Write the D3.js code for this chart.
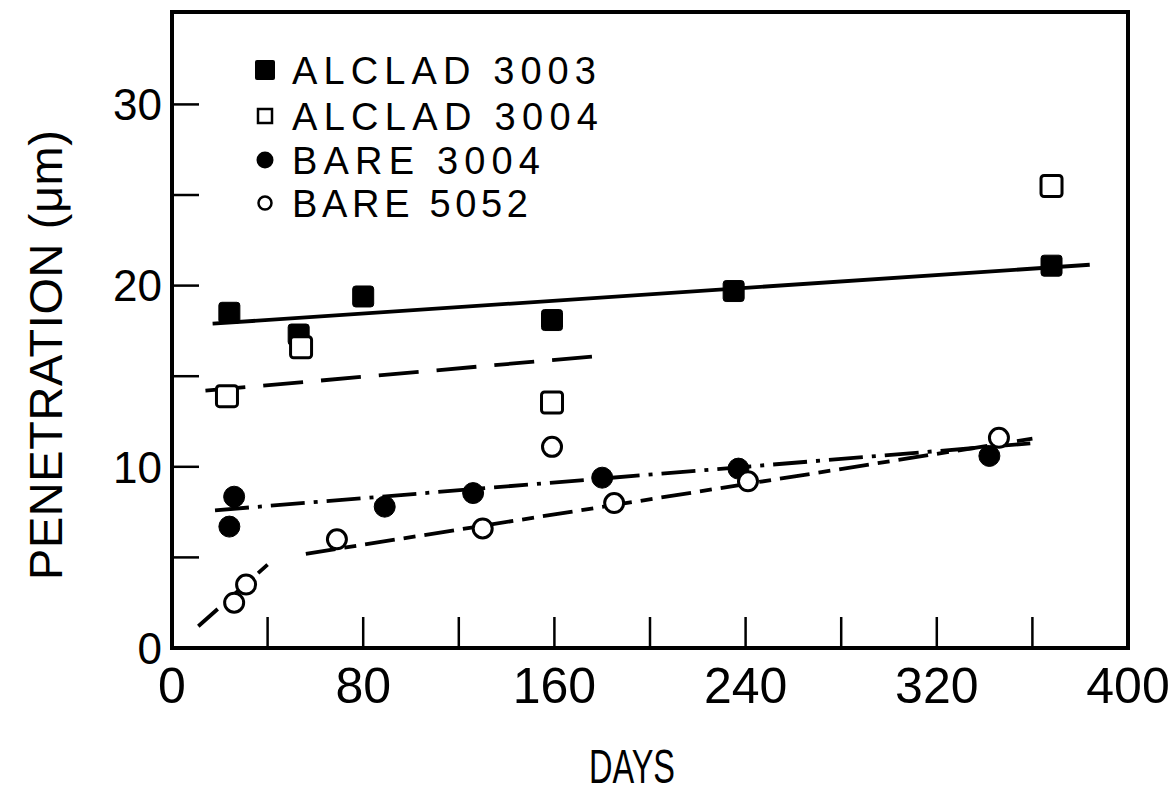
<!DOCTYPE html>
<html>
<head>
<meta charset="utf-8">
<script src="https://cdn.jsdelivr.net/npm/d3@7"></script>
<style>
  body { margin: 0; background: #fff; }
  text { font-family: "Liberation Sans", Arial, sans-serif; fill: #000; }
</style>
</head>
<body>
<div id="chart"></div>
<script>
// measured points, days vs penetration (um)
var alclad3003Days = [24, 53, 80, 159, 235, 368];
var alclad3003Pen = [18.5, 17.3, 19.4, 18.1, 19.7, 21.1];
var alclad3004Days = [23, 54, 159, 368];
var alclad3004Pen = [13.9, 16.6, 13.55, 25.5];
var bare3004Days = [24, 26, 89, 126, 180, 237, 342];
var bare3004Pen = [6.7, 8.35, 7.8, 8.55, 9.4, 9.9, 10.6];
var bare5052Days = [26, 31, 69, 130, 159, 185, 241, 346];
var bare5052Pen = [2.5, 3.5, 6.0, 6.6, 11.1, 8.0, 9.2, 11.6];

// fitted lines, [day, penetration] end points
var fitAlclad3003 = [[17, 17.9], [384, 21.15]];
var fitAlclad3004 = [[14, 14.2], [177, 16.1]];
var fitBare3004 = [[18, 7.6], [360, 11.3]];
var fitBare5052a = [[11, 1.2], [40, 4.6]];
var fitBare5052b = [[56, 5.2], [360, 11.55]];

var xTickLabels = [0, 80, 160, 240, 320, 400];
var xMinorTicks = [40, 80, 120, 160, 200, 240, 280, 320, 360];
var yTickLabels = [0, 10, 20, 30];
var yMinorTicks = [5, 10, 15, 20, 25, 30];
var legendNames = ["ALCLAD 3003", "ALCLAD 3004", "BARE 3004", "BARE 5052"];

var W = 1176, H = 793;
var margin = {top: 12, right: 48, bottom: 145, left: 172};
var width = W - margin.left - margin.right,
    height = H - margin.top - margin.bottom;

var svg = d3.select("#chart").append("svg")
    .attr("width", W).attr("height", H);
var g = svg.append("g")
    .attr("transform", "translate(" + margin.left + "," + margin.top + ")");

var x = d3.scaleLinear().domain([0, 400]).range([0, width]);
var y = d3.scaleLinear().domain([0, 35.1]).range([height, 0]);

// inward ticks
g.selectAll(".xt").data(xMinorTicks).enter().append("line")
    .attr("x1", function(d) { return x(d); })
    .attr("x2", function(d) { return x(d); })
    .attr("y1", height).attr("y2", height - 31)
    .attr("stroke", "#000").attr("stroke-width", 2.5);
g.selectAll(".yt").data(yMinorTicks).enter().append("line")
    .attr("x1", 0).attr("x2", 27)
    .attr("y1", function(d) { return y(d); })
    .attr("y2", function(d) { return y(d); })
    .attr("stroke", "#000").attr("stroke-width", 2.5);

// frame
g.append("rect")
    .attr("x", 0).attr("y", 0).attr("width", width).attr("height", height)
    .attr("fill", "none").attr("stroke", "#000").attr("stroke-width", 4);

// tick labels
g.selectAll(".xl").data(xTickLabels).enter().append("text")
    .attr("x", function(d) { return x(d); })
    .attr("y", height + 55)
    .attr("text-anchor", "middle")
    .style("font-size", "50px")
    .text(function(d) { return d; });
g.selectAll(".yl").data(yTickLabels).enter().append("text")
    .attr("x", -10)
    .attr("y", function(d) { return y(d); })
    .attr("dy", "0.36em")
    .attr("text-anchor", "end")
    .style("font-size", "44px")
    .text(function(d) { return d; });

// axis titles
svg.append("text")
    .attr("x", 632).attr("y", 783)
    .attr("text-anchor", "middle")
    .attr("textLength", 86).attr("lengthAdjust", "spacingAndGlyphs")
    .style("font-size", "48px")
    .text("DAYS");
svg.append("text")
    .attr("transform", "translate(62,355) rotate(-90)")
    .attr("text-anchor", "middle")
    .attr("textLength", 450)
    .style("font-size", "47px")
    .text("PENETRATION (\u03bcm)");

// fitted lines
var line = d3.line()
    .x(function(d) { return x(d[0]); })
    .y(function(d) { return y(d[1]); });
function drawFit(data, dash) {
    g.append("path").datum(data)
        .attr("d", line)
        .attr("fill", "none").attr("stroke", "#000")
        .attr("stroke-width", 3.8)
        .attr("stroke-dasharray", dash);
}
drawFit(fitAlclad3003, null);
drawFit(fitAlclad3004, "40,18");
drawFit(fitBare3004, "34,9,4,9");
drawFit(fitBare5052a, "26,14");
drawFit(fitBare5052b, "30,9,12,9");

// markers
function zip(a, b) { return a.map(function(d, i) { return [d, b[i]]; }); }
function squares(data, filled) {
    g.selectAll(null).data(data).enter().append("rect")
        .attr("x", function(d) { return x(d[0]) - 10.5; })
        .attr("y", function(d) { return y(d[1]) - 10.5; })
        .attr("width", 21).attr("height", 21).attr("rx", 3)
        .attr("fill", filled ? "#000" : "#fff")
        .attr("stroke", "#000").attr("stroke-width", filled ? 1 : 3);
}
function circles(data, filled) {
    g.selectAll(null).data(data).enter().append("circle")
        .attr("cx", function(d) { return x(d[0]); })
        .attr("cy", function(d) { return y(d[1]); })
        .attr("r", filled ? 10.5 : 9.5)
        .attr("fill", filled ? "#000" : "#fff")
        .attr("stroke", "#000").attr("stroke-width", filled ? 1 : 3);
}
squares(zip(alclad3003Days, alclad3003Pen), true);
squares(zip(alclad3004Days, alclad3004Pen), false);
circles(zip(bare3004Days, bare3004Pen), true);
circles(zip(bare5052Days, bare5052Pen), false);

// legend
var legendY = [70, 116, 160, 203];
var legendWidths = [304, 306, 248, 236];
var lg = svg.append("g");
legendNames.forEach(function(name, i) {
    var cy = legendY[i];
    if (i == 0) {
        lg.append("rect").attr("x", 255).attr("y", cy - 10).attr("width", 20).attr("height", 20)
            .attr("rx", 2).attr("fill", "#000");
    } else if (i == 1) {
        lg.append("rect").attr("x", 258).attr("y", cy - 7).attr("width", 14).attr("height", 14)
            .attr("fill", "#fff").attr("stroke", "#000").attr("stroke-width", 2.5);
    } else if (i == 2) {
        lg.append("circle").attr("cx", 265).attr("cy", cy).attr("r", 8.5).attr("fill", "#000");
    } else {
        lg.append("circle").attr("cx", 265).attr("cy", cy).attr("r", 6.5)
            .attr("fill", "#fff").attr("stroke", "#000").attr("stroke-width", 2.5);
    }
    lg.append("text")
        .attr("x", 292).attr("y", cy)
        .attr("dy", "0.36em")
        .attr("textLength", legendWidths[i]).attr("lengthAdjust", "spacing")
        .style("font-size", "38px")
        .text(name);
});
</script>
</body>
</html>
